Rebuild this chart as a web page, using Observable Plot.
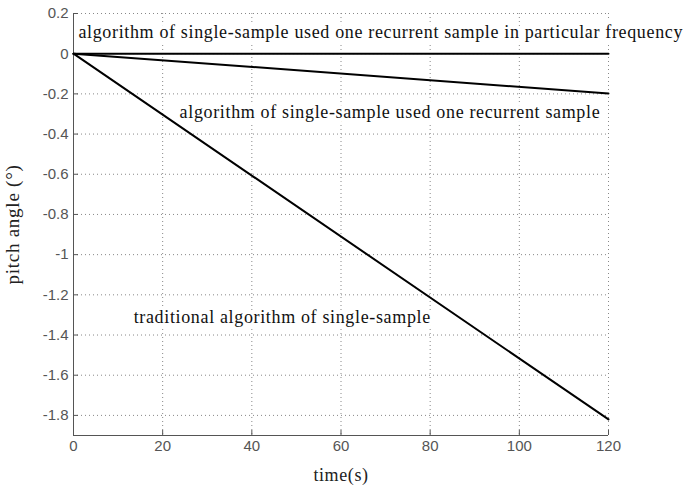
<!DOCTYPE html>
<html>
<head>
<meta charset="utf-8">
<script src="https://cdn.jsdelivr.net/npm/d3@7"></script>
<script src="https://cdn.jsdelivr.net/npm/@observablehq/plot@0.6"></script>
<style>
  html, body { margin: 0; padding: 0; background: #fff; }
</style>
</head>
<body>
<div id="chart"></div>
<script>
// Pitch-angle error of three single-sample attitude algorithms over time
const seriesNames = ["particular frequency", "one recurrent sample", "traditional"];
const times = [0, 120];
const particularFrequency = [0, 0];
const oneRecurrentSample = [0, -0.198];
const traditionalAlgorithm = [0, -1.82];

const xTicks = [0, 20, 40, 60, 80, 100, 120];
const yTicks = [-1.8, -1.6, -1.4, -1.2, -1, -0.8, -0.6, -0.4, -0.2, 0, 0.2];

const annotationTexts = [
  "algorithm of single-sample used one recurrent sample in particular frequency",
  "algorithm of single-sample used one recurrent sample",
  "traditional algorithm of single-sample"
];
const annotationX = [1.1, 23.8, 13.5];
const annotationY = [0.109, -0.289, -1.313];

const xLabel = "time(s)";
const yLabel = "pitch angle (°)";

// long table for the line mark
const seriesValues = [particularFrequency, oneRecurrentSample, traditionalAlgorithm];
const rows = seriesNames.flatMap((name, i) =>
  times.map((t, j) => ({series: name, time: t, angle: seriesValues[i][j]}))
);
const notes = annotationTexts.map((text, i) => ({text, x: annotationX[i], y: annotationY[i]}));

const serif = "'Liberation Serif', 'Times New Roman', serif";
const sans = "'Liberation Sans', Arial, sans-serif";

const chart = Plot.plot({
  width: 688,
  height: 491,
  marginLeft: 73,
  marginRight: 80,
  marginTop: 13,
  marginBottom: 56,
  x: {domain: [0, 120]},
  y: {domain: [-1.9, 0.2]},
  style: {background: "#fff", fontFamily: sans},
  marks: [
    Plot.gridX(xTicks, {stroke: "#888", strokeOpacity: 1, strokeDasharray: "1,3"}),
    Plot.gridY(yTicks, {stroke: "#888", strokeOpacity: 1, strokeDasharray: "1,3"}),
    Plot.ruleX([0], {stroke: "#555"}),
    Plot.ruleY([-1.9], {stroke: "#555"}),
    Plot.axisX(xTicks, {
      tickSize: -5, tickPadding: 10, fontSize: 15, color: "#555",
      tickFormat: d => String(d), label: null
    }),
    Plot.axisY(yTicks, {
      tickSize: -5, tickPadding: 10, fontSize: 15, color: "#555",
      tickFormat: d => String(d), label: null
    }),
    Plot.text(notes, {
      x: "x", y: "y", text: "text", textAnchor: "start",
      fontFamily: serif, fontSize: 18, fill: "#111",
      stroke: "white", strokeWidth: 8
    }),
    Plot.line(rows, {x: "time", y: "angle", z: "series", stroke: "#000", strokeWidth: 2}),
    Plot.text([xLabel], {
      frameAnchor: "bottom", dy: 45, fontFamily: serif, fontSize: 18, fill: "#222"
    }),
    Plot.text([yLabel], {
      frameAnchor: "left", textAnchor: "middle", rotate: -90, dx: -61,
      fontFamily: serif, fontSize: 19, fill: "#222"
    })
  ]
});

// slightly open letter spacing on the serif texts
const spacing = new Map([
  ...annotationTexts.map(t => [t, "0.65px"]),
  [xLabel, "0.6px"],
  [yLabel, "0.75px"]
]);
d3.select(chart).selectAll("text").each(function() {
  const s = spacing.get(this.textContent);
  if (s) this.style.letterSpacing = s;
});

document.getElementById("chart").appendChild(chart);
</script>
</body>
</html>
